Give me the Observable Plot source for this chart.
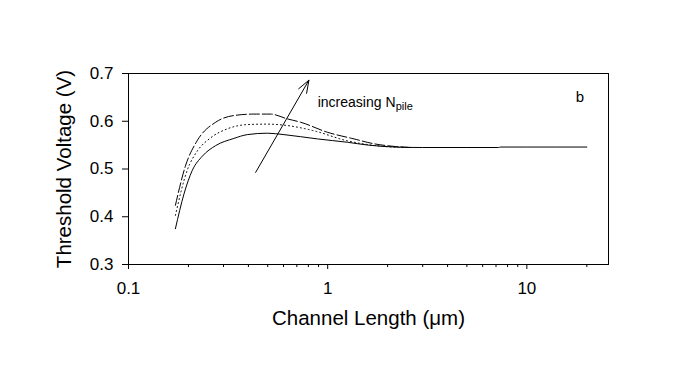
<!DOCTYPE html>
<html><head><meta charset="utf-8">
<script src="https://cdn.jsdelivr.net/npm/d3@7"></script>
<script src="https://cdn.jsdelivr.net/npm/@observablehq/plot@0.6"></script>
<style>body{margin:0;background:#fff;} svg{display:block}</style>
</head><body><div id="chart"></div>
<script>
// Channel length (µm) and threshold voltage (V) for three pile-up doses
const xSolid = [0.172, 0.19, 0.209, 0.235, 0.274, 0.338, 0.395, 0.498, 0.603, 0.888, 1.256, 1.6, 2.2, 3, 5, 7.2, 7.4, 10, 20];
const ySolid = [0.375, 0.448, 0.497, 0.527, 0.549, 0.564, 0.572, 0.575, 0.572, 0.563, 0.556, 0.550, 0.546, 0.545, 0.545, 0.545, 0.546, 0.546, 0.546];

const xDotted = [0.172, 0.197, 0.221, 0.258, 0.313, 0.395, 0.498, 0.627, 0.853, 1.256, 1.6, 2.1, 2.6];
const yDotted = [0.403, 0.497, 0.537, 0.565, 0.584, 0.593, 0.594, 0.591, 0.580, 0.559, 0.551, 0.546, 0.545];

const xDashed = [0.172, 0.193, 0.221, 0.274, 0.338, 0.426, 0.517, 0.627, 0.731, 0.996, 1.356, 1.7, 2.2, 2.6];
const yDashed = [0.424, 0.506, 0.559, 0.598, 0.612, 0.615, 0.615, 0.605, 0.598, 0.577, 0.563, 0.553, 0.547, 0.545];

const xMajorTicks = [0.1, 1, 10];
const xMajorLabels = ["0.1", "1", "10"];
const xMinorTicks = [0.2, 0.3, 0.4, 0.5, 0.6, 0.7, 0.8, 0.9, 2, 3, 4, 5, 6, 7, 8, 9, 20];
const yTicks = [0.3, 0.4, 0.5, 0.6, 0.7];
const yTickLabels = ["0.3", "0.4", "0.5", "0.6", "0.7"];

const arrowData = [{x1: 0.435, y1: 0.493, x2: 0.805, y2: 0.686}];
const annotation = [{x: 0.891, y: 0.630, main: "increasing N", sub: "pile"}];
const panelLabel = [{x: 18.45, y: 0.641, text: "b"}];

const rows = (xs, ys) => xs.map((x, i) => ({x, y: ys[i]}));
const font = "'Liberation Sans', Arial, Helvetica, sans-serif";

const chart = Plot.plot({
  width: 679,
  height: 384,
  marginLeft: 128,
  marginRight: 71,
  marginTop: 73,
  marginBottom: 120,
  style: {fontFamily: font, color: "#000", background: "#fff", overflow: "visible"},
  x: {type: "log", domain: [0.1, 25.7]},
  y: {domain: [0.3, 0.7]},
  marks: [
    Plot.axisX({ticks: xMajorTicks, tickFormat: d => xMajorLabels[xMajorTicks.indexOf(d)], tickSize: 5, tickPadding: 12, fontSize: 17, label: null}),
    Plot.axisX({ticks: xMinorTicks, tickFormat: () => "", tickSize: 3, label: null}),
    Plot.axisY({ticks: yTicks, tickFormat: d => yTickLabels[yTicks.indexOf(d)], tickSize: 6, tickPadding: 9, fontSize: 17, label: null}),
    Plot.frame({stroke: "#000", strokeWidth: 1}),
    Plot.line(rows(xSolid, ySolid), {x: "x", y: "y", stroke: "#000", strokeWidth: 1, curve: "monotone-x"}),
    Plot.line(rows(xDotted, yDotted), {x: "x", y: "y", stroke: "#000", strokeWidth: 1, strokeDasharray: "1,3", curve: "monotone-x"}),
    Plot.line(rows(xDashed, yDashed), {x: "x", y: "y", stroke: "#000", strokeWidth: 1, strokeDasharray: "10,3", curve: "monotone-x"}),
    Plot.arrow(arrowData, {x1: "x1", y1: "y1", x2: "x2", y2: "y2", stroke: "#000", strokeWidth: 1, headLength: 20, headAngle: 40}),
    Plot.text(annotation, {x: "x", y: "y", text: "main", textAnchor: "start", lineAnchor: "bottom", fontSize: 14, fill: "#000"}),
    Plot.text(annotation, {x: "x", y: "y", text: "sub", textAnchor: "start", lineAnchor: "bottom", fontSize: 11, dx: 78, dy: 3, fill: "#000"}),
    Plot.text(panelLabel, {x: "x", y: "y", text: "text", textAnchor: "middle", lineAnchor: "bottom", fontSize: 15, fill: "#000"}),
    Plot.text(["Threshold Voltage (V)"], {frameAnchor: "left", dx: -64, rotate: -90, textAnchor: "middle", lineAnchor: "middle", fontSize: 20.5, fill: "#000"}),
    Plot.text(["Channel Length (μm)"], {frameAnchor: "bottom", dy: 54, textAnchor: "middle", lineAnchor: "middle", fontSize: 20.5, fill: "#000"})
  ]
});
document.getElementById("chart").appendChild(chart);
</script>
</body></html>
